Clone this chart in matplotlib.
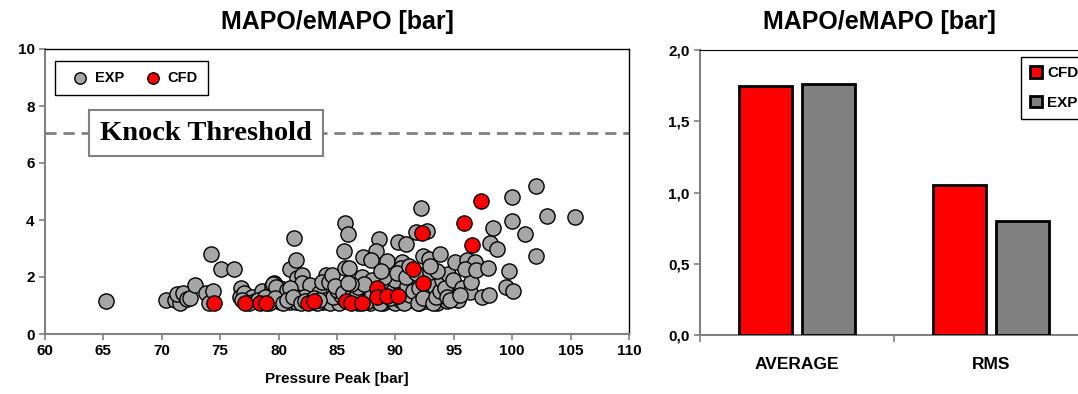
import numpy as np
import matplotlib
matplotlib.use('Agg')
import matplotlib.pyplot as plt
from matplotlib.ticker import FuncFormatter

plt.rcParams['font.family'] = ['Liberation Sans', 'DejaVu Sans']
plt.rcParams['font.weight'] = 'bold'

# Scatter data: EXP (grey) and CFD (red) -- pressure peak vs MAPO
exp_pts = [
    (65.2, 1.15), (70.4, 1.2), (71.1, 1.2), (71.6, 1.08), (71.3, 1.4), (71.8, 1.45),
    (72.2, 1.23), (72.4, 1.25), (72.8, 1.72), (73.8, 1.43), (74.0, 1.1), (74.4, 1.52),
    (74.2, 2.8), (75.1, 2.28), (76.2, 2.27),
    (76.8, 1.6), (76.7, 1.31), (77.0, 1.45), (77.7, 1.31), (78.0, 1.15), (78.55, 1.51),
    (79.4, 1.51), (79.6, 1.8), (79.4, 1.7), (79.9, 1.3), (80.1, 1.13), (80.1, 1.6),
    (80.5, 1.4), (81.0, 1.13), (81.5, 1.13), (81.3, 1.52), (81.0, 2.27), (81.3, 3.38),
    (81.5, 2.6), (81.6, 1.98), (82.0, 2.07), (82.0, 1.78), (82.7, 1.72), (82.2, 1.3),
    (83.5, 1.43), (83.8, 1.13), (84.1, 2.07), (83.7, 1.84), (84.3, 1.84), (84.55, 2.07),
    (79.5, 1.75), (79.8, 1.65), (80.7, 1.55), (81.0, 1.6),
    (76.9, 1.2), (77.5, 1.1), (78.2, 1.2), (78.8, 1.3), (79.2, 1.1), (79.7, 1.25),
    (80.4, 1.1), (80.7, 1.2), (81.2, 1.3), (81.9, 1.1), (82.3, 1.15), (83.0, 1.25),
    (83.3, 1.1), (84.0, 1.2), (84.4, 1.1), (84.9, 1.25), (85.2, 1.1), (85.5, 1.25),
    (86.3, 1.2), (86.8, 1.1), (87.3, 1.25), (87.8, 1.1), (88.2, 1.2), (88.9, 1.1),
    (89.6, 1.15), (90.0, 1.1), (90.4, 1.2), (91.0, 1.15), (91.5, 1.25), (92.0, 1.1),
    (92.6, 1.15), (93.0, 1.2), (93.6, 1.1), (94.0, 1.25), (94.4, 1.15), (95.0, 1.3),
    (95.4, 1.2),
    (84.7, 1.31), (83.5, 1.19), (85.3, 1.37), (85.0, 1.55), (84.8, 1.7), (85.5, 1.45),
    (86.4, 1.48), (86.6, 1.3), (86.8, 1.65), (87.1, 2.01), (87.7, 1.6), (87.5, 1.13),
    (88.0, 1.4), (88.7, 1.84), (88.7, 1.08), (89.4, 1.78), (89.5, 1.25), (89.0, 1.6),
    (89.8, 1.5), (90.5, 1.6), (90.0, 1.9), (89.0, 2.0), (88.0, 1.9), (87.3, 1.75),
    (86.2, 1.75), (90.7, 1.08), (91.25, 1.37), (91.0, 1.7), (91.5, 1.5), (92.0, 1.6),
    (91.96, 1.08), (92.4, 1.25), (92.8, 1.9), (93.3, 1.7), (93.2, 1.08), (93.5, 1.31),
    (93.8, 1.5), (94.0, 1.9), (94.25, 1.6), (94.4, 1.31), (94.7, 1.19), (94.5, 2.1),
    (94.95, 1.89), (95.7, 1.6), (96.4, 1.48), (96.45, 1.81), (97.4, 1.29), (98.0, 1.37),
    (99.45, 1.64), (100.05, 1.51), (95.5, 1.37), (95.1, 2.54), (96.1, 2.6), (96.8, 2.54),
    (96.0, 2.27), (96.9, 2.25), (97.95, 2.3), (98.1, 3.2), (98.7, 3.0), (98.35, 3.73),
    (99.96, 4.8), (99.96, 3.96), (101.1, 3.5), (102.0, 5.19), (102.95, 4.14),
    (105.4, 4.12), (102.0, 2.75), (99.75, 2.21),
    (85.7, 3.88), (85.9, 3.5), (85.6, 2.92), (85.7, 2.3), (86.0, 2.3), (85.9, 1.8),
    (88.6, 3.32), (88.3, 2.92), (87.25, 2.71), (87.9, 2.6), (89.3, 2.56), (88.8, 2.22),
    (90.2, 3.22), (90.9, 3.16), (92.2, 4.43), (91.8, 3.59), (92.7, 3.62), (92.4, 2.74),
    (92.9, 2.62), (93.8, 2.81), (90.6, 2.54), (90.5, 2.3), (90.1, 2.15), (90.95, 2.01),
    (91.8, 2.13), (93.0, 2.19), (93.6, 2.21), (91.2, 2.4), (93.0, 2.4),
]
exp_x = [p[0] for p in exp_pts]
exp_y = [p[1] for p in exp_pts]

cfd_x = [74.5, 77.1, 78.4, 78.9, 82.5, 83.0, 85.8, 86.2, 87.1, 88.4, 88.4, 89.3,
         90.2, 91.5, 92.4, 92.3, 95.9, 96.6, 97.3]
cfd_y = [1.1, 1.1, 1.1, 1.1, 1.1, 1.15, 1.16, 1.1, 1.1, 1.6, 1.3, 1.33,
         1.33, 2.28, 1.78, 3.55, 3.88, 3.12, 4.66]

knock_threshold = 7.05

# Bar data
bar_cats = ['AVERAGE', 'RMS']
bar_cfd = [1.75, 1.05]
bar_exp = [1.76, 0.80]

fig = plt.figure(figsize=(10.78, 3.94), dpi=100)

# ---- left: scatter
ax = fig.add_axes([45/1078, 1-334/394, 584/1078, 285/394])
ax.scatter(exp_x, exp_y, s=120, c='#A6A6A6', edgecolors='black', linewidths=1,
           label='EXP', zorder=3)
ax.scatter(cfd_x, cfd_y, s=120, c='#FF0000', edgecolors='black', linewidths=1,
           label='CFD', zorder=4)
ax.axhline(knock_threshold, color='#808080', lw=2, ls=(0, (4, 2.5)), zorder=2)
ax.text(73.8, knock_threshold, 'Knock Threshold', family='Liberation Serif',
        fontsize=20.5, fontweight='bold', ha='center', va='center', zorder=5,
        bbox=dict(boxstyle='square,pad=0.38', fc='white', ec='#808080', lw=1.5))
ax.set_xlim(60, 110)
ax.set_ylim(0, 10)
ax.set_xticks(np.arange(60, 111, 5))
ax.set_yticks(np.arange(0, 11, 2))
ax.tick_params(labelsize=11, color='#808080', length=4, width=1.2)
ax.set_xlabel('Pressure Peak [bar]', fontsize=11, fontweight='bold', labelpad=10)
for s in ['left', 'bottom']:
    ax.spines[s].set_color('#808080')
    ax.spines[s].set_linewidth(1.5)
for s in ['top', 'right']:
    ax.spines[s].set_color('black')
    ax.spines[s].set_linewidth(1)
leg = ax.legend(loc='upper left', ncol=2, fontsize=10.5, fancybox=False,
                edgecolor='black', framealpha=1, handletextpad=0.0, markerscale=0.75,
                columnspacing=1.0, borderpad=0.7, bbox_to_anchor=(0.005, 0.985))
leg.get_frame().set_linewidth(1)
fig.text(337/1078, 1-22/394, 'MAPO/eMAPO [bar]', fontsize=18, fontweight='bold',
         ha='center', va='center')

# ---- right: bars
ax2 = fig.add_axes([700/1078, 1-335/394, 388/1078, 285/394])
xpos = np.arange(len(bar_cats))
w = 0.273
ax2.bar(xpos - 0.163, bar_cfd, width=w, color='#FF0000', edgecolor='black',
        linewidth=2, label='CFD', zorder=3)
ax2.bar(xpos + 0.163, bar_exp, width=w, color='#808080', edgecolor='black',
        linewidth=2, label='EXP', zorder=3)
ax2.set_xlim(-0.5, 1.5)
ax2.set_ylim(0, 2.0)
ax2.set_yticks(np.arange(0, 2.01, 0.5))
ax2.yaxis.set_major_formatter(FuncFormatter(lambda v, p: f'{v:.1f}'.replace('.', ',')))
ax2.set_xticks([-0.5, 0.5, 1.5])
ax2.set_xticklabels([])
ax2.set_xticks(xpos, minor=True)
ax2.set_xticklabels(bar_cats, minor=True, fontsize=12.5, fontweight='bold')
ax2.tick_params(axis='x', which='minor', length=0, pad=16)
ax2.tick_params(axis='x', which='major', color='#808080', length=5, width=1.2)
ax2.tick_params(axis='y', labelsize=11, color='#808080', length=4, width=1.2)
for s in ['left', 'bottom']:
    ax2.spines[s].set_color('#808080')
    ax2.spines[s].set_linewidth(1.5)
ax2.spines['top'].set_color('black')
ax2.spines['right'].set_visible(False)
fig.text(879/1078, 1-22/394, 'MAPO/eMAPO [bar]', fontsize=18, fontweight='bold',
         ha='center', va='center')
leg2 = ax2.legend(loc='upper left', bbox_to_anchor=((1021-700)/388, 1-(57-50)/285),
                  fontsize=11, fancybox=False, edgecolor='black', framealpha=1,
                  handlelength=0.8, handleheight=0.8, handletextpad=0.3,
                  borderpad=0.6, labelspacing=1.0, borderaxespad=0)
leg2.get_frame().set_linewidth(1)

fig.savefig('out.png', dpi=100)
